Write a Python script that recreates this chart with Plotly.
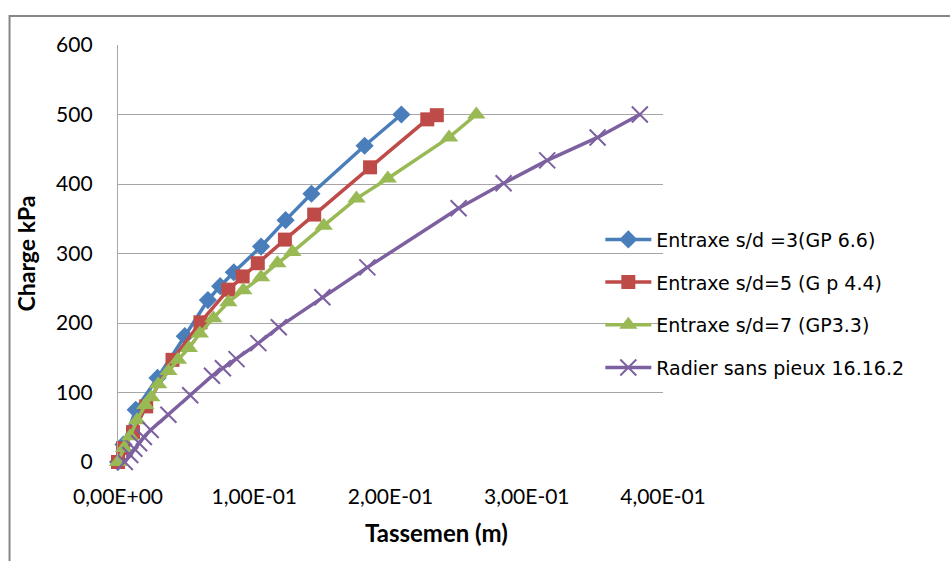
import plotly.graph_objects as go

# Settlement (m) vs load (kPa) for each configuration
gp66_x = [0.0, 0.004, 0.013, 0.029, 0.049, 0.066, 0.075, 0.085, 0.105, 0.123, 0.142, 0.181, 0.208]
gp66_y = [0, 25, 75, 121, 181, 233, 253, 273, 310, 348, 386, 455, 500]

gp44_x = [0.0, 0.0037, 0.011, 0.0207, 0.040, 0.0605, 0.081, 0.0915, 0.1026, 0.1225, 0.144, 0.185, 0.227, 0.234]
gp44_y = [0, 20, 43, 80, 147, 201, 248, 267, 286, 320, 356, 424, 493, 499]

gp33_x = [0.0, 0.0044, 0.0089, 0.014, 0.020, 0.0244, 0.0295, 0.037, 0.044, 0.052, 0.060, 0.070,
          0.081, 0.092, 0.105, 0.117, 0.128, 0.151, 0.175, 0.198, 0.243, 0.263]
gp33_y = [0, 20, 37, 60, 82, 93, 112, 131, 147, 164, 185, 207,
          230, 247, 266, 286, 302, 340, 379, 408, 467, 500]

radier_x = [0.005, 0.009, 0.012, 0.0155, 0.019, 0.024, 0.037, 0.053, 0.069, 0.077, 0.087, 0.103,
            0.118, 0.150, 0.183, 0.250, 0.283, 0.315, 0.352, 0.383]
radier_y = [0, 10, 19, 27, 36, 46, 68, 96, 124, 135, 148, 171,
            194, 237, 280, 365, 401, 434, 467, 500]

series_names = [
    "Entraxe s/d =3(GP 6.6)",
    "Entraxe s/d=5 (G p 4.4)",
    "Entraxe s/d=7 (GP3.3)",
    "Radier sans pieux 16.16.2",
]

x_ticks = [0.0, 0.1, 0.2, 0.3, 0.4]
y_ticks = [0, 100, 200, 300, 400, 500, 600]


def sci_fr(v):
    s = f"{v:.2E}"
    return s.replace(".", ",")


fig = go.Figure()

styles = [
    (gp66_x, gp66_y, "#4A7EBB", dict(symbol="diamond", size=14)),
    (gp44_x, gp44_y, "#BE4B48", dict(symbol="square", size=14)),
    (gp33_x, gp33_y, "#98B954", dict(symbol="triangle-up", size=16)),
    (radier_x, radier_y, "#7D60A0", dict(symbol="x-thin", size=16, line=dict(width=2, color="#7D60A0"))),
]

for i, (xs, ys, col, mk) in enumerate(styles):
    fig.add_trace(go.Scatter(
        x=xs, y=ys, name=series_names[i], mode="lines+markers",
        line=dict(color=col, width=3.5),
        marker=dict(color=col, **mk),
        cliponaxis=False,
        legendgroup=str(i),
    ))

fig.update_layout(
    width=950, height=561,
    margin=dict(l=118, r=287, t=45, b=99),
    paper_bgcolor="white", plot_bgcolor="white",
    font=dict(family="Lato", size=21, color="#000000"),
    showlegend=True,
    legend=dict(
        x=0.885, y=0.38, xanchor="left", yanchor="middle",
        font=dict(family="DejaVu Sans", size=19, color="#000000"),
        tracegroupgap=15, traceorder="grouped", itemwidth=46,
        bgcolor="rgba(0,0,0,0)",
    ),
    xaxis=dict(
        range=[0, 0.4], tickvals=x_ticks, ticktext=[sci_fr(v) for v in x_ticks],
        showgrid=False, zeroline=False, showline=False,
        ticks="", ticklabelstandoff=20,
    ),
    yaxis=dict(
        range=[0, 600], tickvals=y_ticks,
        showgrid=True, gridcolor="#A6A6A6", gridwidth=1.3,
        zeroline=False, showline=True, linecolor="#A6A6A6", linewidth=1.3,
        ticks="", ticklabelstandoff=20,
        title=dict(text="<b>Charge kPa</b>", font=dict(family="Lato", size=23), standoff=14),
    ),
    annotations=[
        dict(text="<b>Tassemen (m)</b>", xref="paper", yref="paper",
             x=0.585, y=-0.17, xanchor="center", yanchor="middle", showarrow=False,
             font=dict(family="Lato", size=24, color="#000000")),
    ],
    shapes=[
        dict(type="rect", xref="paper", yref="paper",
             x0=-0.199, x1=1.7, y0=-0.4, y1=1.0695,
             line=dict(color="#868686", width=2), fillcolor="rgba(0,0,0,0)", layer="below"),
    ],
)

fig.write_html("out.html")
